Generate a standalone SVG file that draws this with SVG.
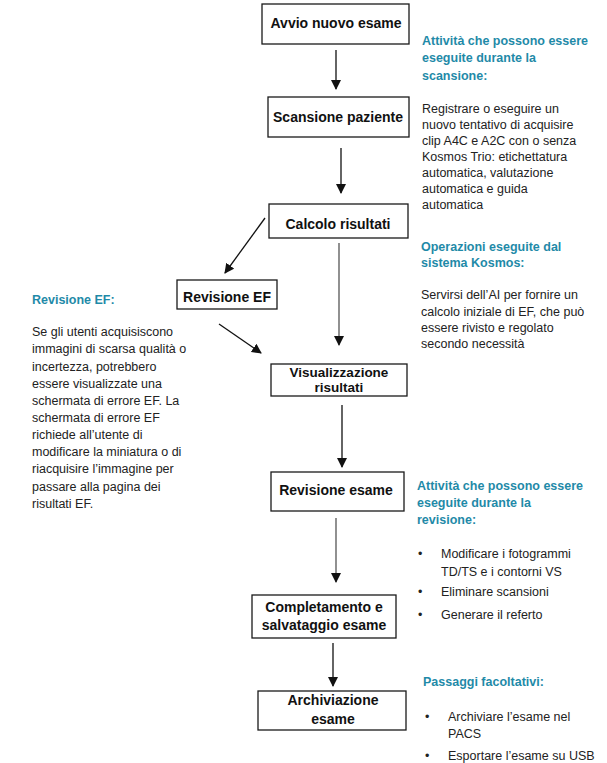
<svg xmlns="http://www.w3.org/2000/svg" width="607" height="763" viewBox="0 0 607 763">
  <style>
    .box { fill: #ffffff; stroke: #1a1a1a; stroke-width: 1.3; }
    .lbl { font-family: "Liberation Sans", Arial, sans-serif; font-weight: bold; font-size: 14px; fill: #111; text-anchor: middle; }
    .lbl.tight { font-size: 13.5px; }
    .head { font-family: "Liberation Sans", Arial, sans-serif; font-weight: bold; font-size: 12.5px; fill: #1f8aa8; }
    .body { font-family: "Liberation Sans", Arial, sans-serif; font-size: 12.5px; fill: #222; }
    .edge { fill: none; stroke: #111; stroke-width: 1.3; }
    .edge.grey { stroke: #555; }
  </style>
  <defs>
    <marker id="arrow" viewBox="0 0 10 10" refX="9" refY="5" markerWidth="10" markerHeight="10" markerUnits="userSpaceOnUse" orient="auto">
      <path d="M0,0 L10,5 L0,10 Z" fill="#111"/>
    </marker>
  </defs>

  <rect width="607" height="763" fill="#ffffff"/>

  <!-- connectors -->
  <g id="connectors">
    <line class="edge" x1="336" y1="50" x2="336" y2="89" marker-end="url(#arrow)"/>
    <line class="edge" x1="341" y1="148" x2="341" y2="193" marker-end="url(#arrow)"/>
    <line class="edge" x1="265" y1="218" x2="225" y2="273" marker-end="url(#arrow)"/>
    <line class="edge" x1="219" y1="324" x2="261" y2="353" marker-end="url(#arrow)"/>
    <line class="edge grey" x1="339" y1="243" x2="339" y2="345" marker-end="url(#arrow)"/>
    <line class="edge" x1="342" y1="405" x2="342" y2="467" marker-end="url(#arrow)"/>
    <line class="edge grey" x1="336" y1="518" x2="336" y2="582" marker-end="url(#arrow)"/>
    <line class="edge" x1="333" y1="643" x2="333" y2="686" marker-end="url(#arrow)"/>
  </g>

  <!-- flow nodes -->
  <g id="node-avvio">
    <rect class="box" x="262" y="4" width="147" height="40"/>
    <text class="lbl" x="336" y="28">Avvio nuovo esame</text>
  </g>
  <g id="node-scansione">
    <rect class="box" x="268" y="97" width="141" height="40"/>
    <text class="lbl" x="338" y="122">Scansione paziente</text>
  </g>
  <g id="node-calcolo">
    <rect class="box" x="269" y="204" width="139" height="34"/>
    <text class="lbl" x="338" y="229">Calcolo risultati</text>
  </g>
  <g id="node-revisione-ef">
    <rect class="box" x="177" y="280" width="100" height="29"/>
    <text class="lbl" x="227" y="302">Revisione EF</text>
  </g>
  <g id="node-visualizzazione">
    <rect class="box" x="271" y="364" width="136" height="32"/>
    <text class="lbl tight" x="339" y="377">Visualizzazione</text>
    <text class="lbl tight" x="339" y="392">risultati</text>
  </g>
  <g id="node-revisione-esame">
    <rect class="box" x="271" y="472" width="133" height="39"/>
    <text class="lbl" x="336" y="495">Revisione esame</text>
  </g>
  <g id="node-completamento">
    <rect class="box" x="252" y="595" width="144" height="43"/>
    <text class="lbl" x="324" y="612">Completamento e</text>
    <text class="lbl" x="324" y="630">salvataggio esame</text>
  </g>
  <g id="node-archiviazione">
    <rect class="box" x="258" y="691" width="148" height="39"/>
    <text class="lbl" x="333" y="705">Archiviazione</text>
    <text class="lbl" x="333" y="724">esame</text>
  </g>

  <!-- side notes -->
  <g id="note-scansione">
    <text class="head" x="422" y="45">Attività che possono essere</text>
    <text class="head" x="422" y="62">eseguite durante la</text>
    <text class="head" x="422" y="80">scansione:</text>
    <text class="body" x="422" y="113">Registrare o eseguire un</text>
    <text class="body" x="422" y="129">nuovo tentativo di acquisire</text>
    <text class="body" x="422" y="145">clip A4C e A2C con o senza</text>
    <text class="body" x="422" y="161">Kosmos Trio: etichettatura</text>
    <text class="body" x="422" y="177">automatica, valutazione</text>
    <text class="body" x="422" y="193">automatica e guida</text>
    <text class="body" x="422" y="209">automatica</text>
  </g>

  <g id="note-kosmos">
    <text class="head" x="421" y="251">Operazioni eseguite dal</text>
    <text class="head" x="421" y="267">sistema Kosmos:</text>
    <text class="body" x="421" y="299">Servirsi dell’AI per fornire un</text>
    <text class="body" x="421" y="316">calcolo iniziale di EF, che può</text>
    <text class="body" x="421" y="332">essere rivisto e regolato</text>
    <text class="body" x="421" y="348">secondo necessità</text>
  </g>

  <g id="note-revisione-ef">
    <text class="head" x="32" y="304">Revisione EF:</text>
    <text class="body" x="32" y="336">Se gli utenti acquisiscono</text>
    <text class="body" x="32" y="353">immagini di scarsa qualità o</text>
    <text class="body" x="32" y="371">incertezza, potrebbero</text>
    <text class="body" x="32" y="388">essere visualizzate una</text>
    <text class="body" x="32" y="405">schermata di errore EF. La</text>
    <text class="body" x="32" y="422">schermata di errore EF</text>
    <text class="body" x="32" y="439">richiede all’utente di</text>
    <text class="body" x="32" y="456">modificare la miniatura o di</text>
    <text class="body" x="32" y="473">riacquisire l’immagine per</text>
    <text class="body" x="32" y="491">passare alla pagina dei</text>
    <text class="body" x="32" y="508">risultati EF.</text>
  </g>

  <g id="note-revisione">
    <text class="head" x="417" y="490">Attività che possono essere</text>
    <text class="head" x="417" y="507">eseguite durante la</text>
    <text class="head" x="417" y="524">revisione:</text>
    <text class="body" x="418" y="558">•</text>
    <text class="body" x="441" y="558">Modificare i fotogrammi</text>
    <text class="body" x="441" y="576">TD/TS e i contorni VS</text>
    <text class="body" x="418" y="596">•</text>
    <text class="body" x="441" y="596">Eliminare scansioni</text>
    <text class="body" x="418" y="619">•</text>
    <text class="body" x="441" y="619">Generare il referto</text>
  </g>

  <g id="note-facoltativi">
    <text class="head" x="423" y="686">Passaggi facoltativi:</text>
    <text class="body" x="425" y="721">•</text>
    <text class="body" x="448" y="721">Archiviare l’esame nel</text>
    <text class="body" x="448" y="738">PACS</text>
    <text class="body" x="425" y="760">•</text>
    <text class="body" x="448" y="760">Esportare l’esame su USB</text>
  </g>
</svg>
